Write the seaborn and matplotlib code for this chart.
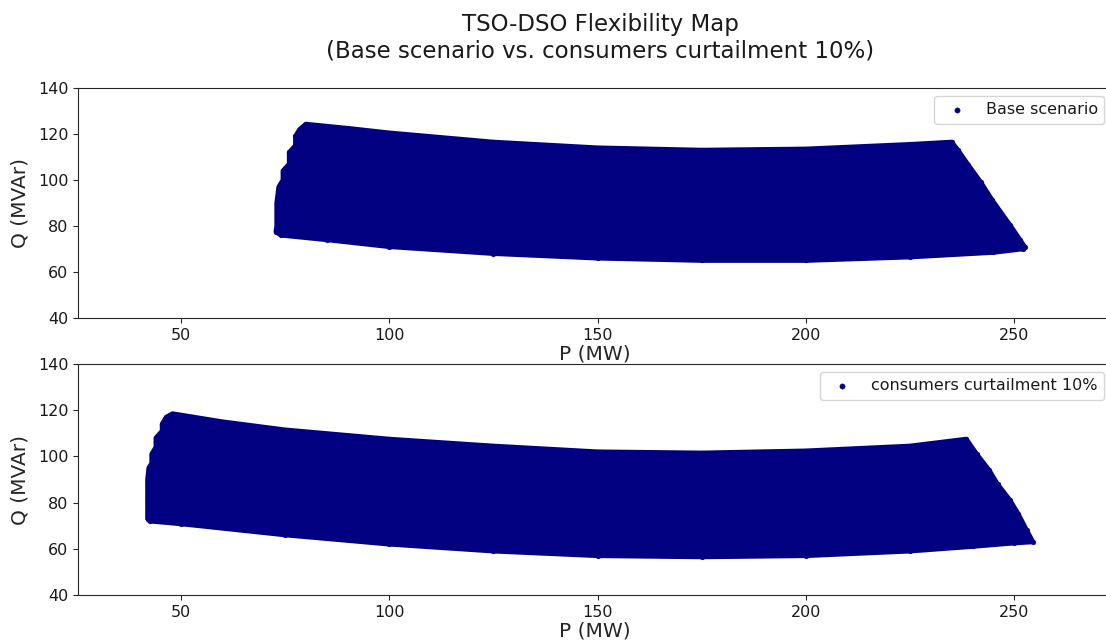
import matplotlib
matplotlib.use("Agg")
import matplotlib.pyplot as plt
import seaborn as sns
import pandas as pd

# Boundary vertices of each flexibility region (P in MW, Q in MVAr)
p_base = [74, 85, 100, 125, 150, 175, 200, 225, 245, 252,
          252.5, 251.4, 249, 244.7, 242, 239, 236.5, 235,
          225, 200, 175, 150, 125, 100, 90, 80,
          78.5, 77.5, 77.5, 76, 76, 74.5, 74.5, 73.5, 73, 73, 72.8]
q_base = [76, 74, 71, 68, 66, 65, 65, 66.5, 68.5, 70,
          71, 74, 80.4, 91.3, 99, 106.5, 113, 116.5,
          115.5, 113.5, 113, 114, 116.5, 120.5, 122.5, 124.3,
          122, 119, 115, 112, 107, 104, 100, 97, 90, 80, 77.5]

p_curt = [42.5, 50, 75, 100, 125, 150, 175, 200, 225, 240, 250, 254.5,
          253, 251, 249, 246, 244, 241, 238.5,
          225, 200, 175, 150, 125, 100, 75, 60, 48,
          46.5, 45.5, 45.5, 44, 44, 43, 43, 42.3, 42, 42, 42]
q_curt = [72, 70.8, 66, 62, 59, 57, 56.5, 57, 59, 61, 62.5, 63,
          68, 75, 81, 88, 94, 101, 107.5,
          104.5, 102.4, 101.5, 102, 104.5, 107.5, 111.5, 115, 118.5,
          117, 114, 111, 108, 104, 101, 97, 95, 90, 80, 73]

labels = ["Base scenario", "consumers curtailment 10%"]
color = "#000080"

sns.set_style("ticks")
plt.rcParams["font.family"] = ["DejaVu Sans"]
plt.rcParams["text.color"] = "#1a1a1a"

fig = plt.figure(figsize=(11.06, 6.42), dpi=100)
ax1 = fig.add_axes([0.0705, 0.5047, 0.935, 0.3582])
ax2 = fig.add_axes([0.0705, 0.0732, 0.935, 0.3598])

for ax, p, q, lab in [(ax1, p_base, q_base, labels[0]), (ax2, p_curt, q_curt, labels[1])]:
    df = pd.DataFrame({"P": p, "Q": q})
    ax.fill(df["P"], df["Q"], color=color, lw=3.4, ec=color, joinstyle="round", zorder=2)
    sns.scatterplot(data=df, x="P", y="Q", ax=ax, color=color, s=12,
                    edgecolor=color, linewidth=0.3, label=lab, zorder=3)
    ax.set_xlim(25.3, 273.5)
    ax.set_ylim(40, 140)
    ax.set_xticks([50, 100, 150, 200, 250])
    ax.set_yticks([40, 60, 80, 100, 120, 140])
    ax.tick_params(labelsize=11.5, colors="#262626", labelcolor="#1a1a1a")
    ax.set_xlabel("P (MW)", fontsize=14.5, labelpad=1)
    ax.set_ylabel("Q (MVAr)", fontsize=14.5, labelpad=6)
    for s in ax.spines.values():
        s.set_color("#262626")
    leg = ax.legend(loc="upper right", fontsize=11.5, markerscale=1.1,
                    frameon=True, borderaxespad=0.5)

ax1.set_title("TSO-DSO Flexibility Map\n(Base scenario vs. consumers curtailment 10%)",
              fontsize=16.5, pad=22, x=0.505)

fig.savefig("out.png", dpi=100)
